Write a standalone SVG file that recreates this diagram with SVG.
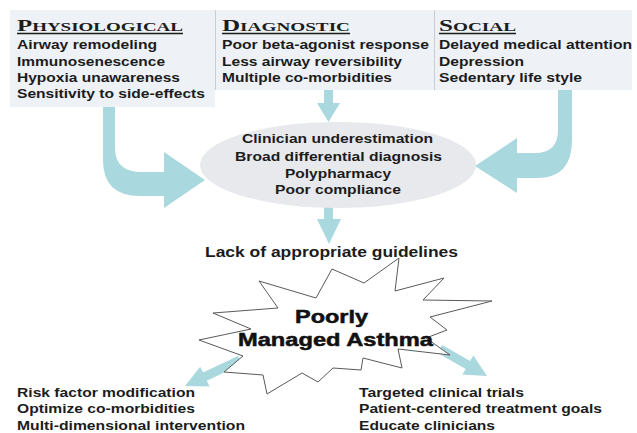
<svg xmlns="http://www.w3.org/2000/svg" width="637" height="433" viewBox="0 0 637 433">
<style>
.t{font-family:"Liberation Sans",Arial,sans-serif;font-weight:bold;font-size:13px;fill:#1c1c1c}
.h{font-family:"Liberation Serif","Times New Roman",serif;font-weight:bold;fill:#1c1c1c}
.big{font-size:14.5px}
.star{font-size:18px;fill:#111;stroke:#111;stroke-width:0.5}
.arrow{fill:#a9d8de}
.sep{stroke:#c9ccd0;stroke-width:1}
.ul{stroke:#1c1c1c;stroke-width:1.5}
</style>
<rect width="637" height="433" fill="#ffffff"/>

<g id="panel-physiological">
  <rect x="10" y="10" width="205" height="97" fill="#eef2f6"/>
  <text class="h" x="17" y="31" textLength="166" lengthAdjust="spacingAndGlyphs"><tspan font-size="17">P</tspan><tspan font-size="13">HYSIOLOGICAL</tspan></text>
  <line class="ul" x1="17" y1="33.5" x2="183" y2="33.5"/>
  <text class="t" x="17" y="49" textLength="140" lengthAdjust="spacingAndGlyphs">Airway remodeling</text>
  <text class="t" x="17" y="65.5" textLength="148" lengthAdjust="spacingAndGlyphs">Immunosenescence</text>
  <text class="t" x="17" y="82" textLength="163" lengthAdjust="spacingAndGlyphs">Hypoxia unawareness</text>
  <text class="t" x="17" y="98" textLength="188" lengthAdjust="spacingAndGlyphs">Sensitivity to side-effects</text>
</g>

<g id="panel-diagnostic">
  <rect x="215" y="10" width="219" height="80" fill="#eef2f6"/>
  <line class="sep" x1="215.5" y1="10" x2="215.5" y2="90"/>
  <text class="h" x="222" y="31" textLength="128" lengthAdjust="spacingAndGlyphs"><tspan font-size="17">D</tspan><tspan font-size="13">IAGNOSTIC</tspan></text>
  <line class="ul" x1="222" y1="33.5" x2="350" y2="33.5"/>
  <text class="t" x="222" y="49" textLength="207" lengthAdjust="spacingAndGlyphs">Poor beta-agonist response</text>
  <text class="t" x="222" y="65.5" textLength="180" lengthAdjust="spacingAndGlyphs">Less airway reversibility</text>
  <text class="t" x="222" y="82" textLength="170" lengthAdjust="spacingAndGlyphs">Multiple co-morbidities</text>
</g>

<g id="panel-social">
  <rect x="434" y="10" width="198" height="80" fill="#eef2f6"/>
  <line class="sep" x1="434.5" y1="10" x2="434.5" y2="90"/>
  <text class="h" x="439" y="31" textLength="77" lengthAdjust="spacingAndGlyphs"><tspan font-size="17">S</tspan><tspan font-size="13">OCIAL</tspan></text>
  <line class="ul" x1="439" y1="33.5" x2="516" y2="33.5"/>
  <text class="t" x="439" y="49" textLength="193" lengthAdjust="spacingAndGlyphs">Delayed medical attention</text>
  <text class="t" x="439" y="65.5" textLength="85" lengthAdjust="spacingAndGlyphs">Depression</text>
  <text class="t" x="439" y="82" textLength="143" lengthAdjust="spacingAndGlyphs">Sedentary life style</text>
</g>

<g id="connectors">
  <path class="arrow" d="M103,107 L103,160 Q103,196 140,196 L164,196 L164,208 L205,180 L164,152 L164,172 L142,172 Q115,172 115,148 L115,107 Z"/>
  <path class="arrow" d="M558,90 L558,130 Q558,153 535,153 L517,153 L517,138 L475,166 L517,193 L517,178 L537,178 Q572,178 572,140 L572,90 Z"/>
  <polygon class="arrow" points="324,90 333,90 333,103 340,103 328.5,122 317,103 324,103"/>
  <polygon class="arrow" points="324,207 333,207 333,219 341,219 329,244 317,219 324,219"/>
  <polygon class="arrow" points="241.9,364.1 238.1,355.9 203,372.5 200.2,366.7 185,386 209.6,386.5 206.8,380.7"/>
  <polygon class="arrow" points="437.8,352.9 442.2,345.1 470.1,361.1 473.4,355.5 487,376 462.4,374.5 465.7,368.9"/>
</g>

<g id="node-factors">
  <ellipse cx="338" cy="165" rx="138" ry="43" fill="#e8e9ed"/>
  <text class="t" x="242" y="143" textLength="191" lengthAdjust="spacingAndGlyphs">Clinician underestimation</text>
  <text class="t" x="235" y="160.5" textLength="207" lengthAdjust="spacingAndGlyphs">Broad differential diagnosis</text>
  <text class="t" x="285" y="177.5" textLength="106" lengthAdjust="spacingAndGlyphs">Polypharmacy</text>
  <text class="t" x="275" y="194" textLength="126" lengthAdjust="spacingAndGlyphs">Poor compliance</text>
</g>

<g id="node-guidelines">
  <text class="t big" x="205" y="257" textLength="253" lengthAdjust="spacingAndGlyphs">Lack of appropriate guidelines</text>
</g>

<g id="node-asthma">
  <polygon fill="#ffffff" stroke="#5a5a5a" stroke-width="1" stroke-linejoin="miter" points="259,281 316,298 332,269 364,283 399,258 395,291 444,278 423,300 492,301 430,317 447,330 426,338 450,355 398,349 402,368 363,358 361,370 333,368 318,382 302,373 267,394 263,375 224,372 243,356 199,340 251,329 213,313 278,308"/>
  <text class="t star" x="295" y="323" textLength="73" lengthAdjust="spacingAndGlyphs">Poorly</text>
  <text class="t star" x="238" y="346" textLength="195" lengthAdjust="spacingAndGlyphs">Managed Asthma</text>
</g>

<g id="node-interventions">
  <text class="t" x="17" y="397" textLength="178" lengthAdjust="spacingAndGlyphs">Risk factor modification</text>
  <text class="t" x="17" y="413" textLength="178" lengthAdjust="spacingAndGlyphs">Optimize co-morbidities</text>
  <text class="t" x="17" y="429.5" textLength="228" lengthAdjust="spacingAndGlyphs">Multi-dimensional intervention</text>
</g>

<g id="node-research">
  <text class="t" x="359" y="397" textLength="165" lengthAdjust="spacingAndGlyphs">Targeted clinical trials</text>
  <text class="t" x="359" y="413" textLength="243" lengthAdjust="spacingAndGlyphs">Patient-centered treatment goals</text>
  <text class="t" x="359" y="429.5" textLength="136" lengthAdjust="spacingAndGlyphs">Educate clinicians</text>
</g>
</svg>
